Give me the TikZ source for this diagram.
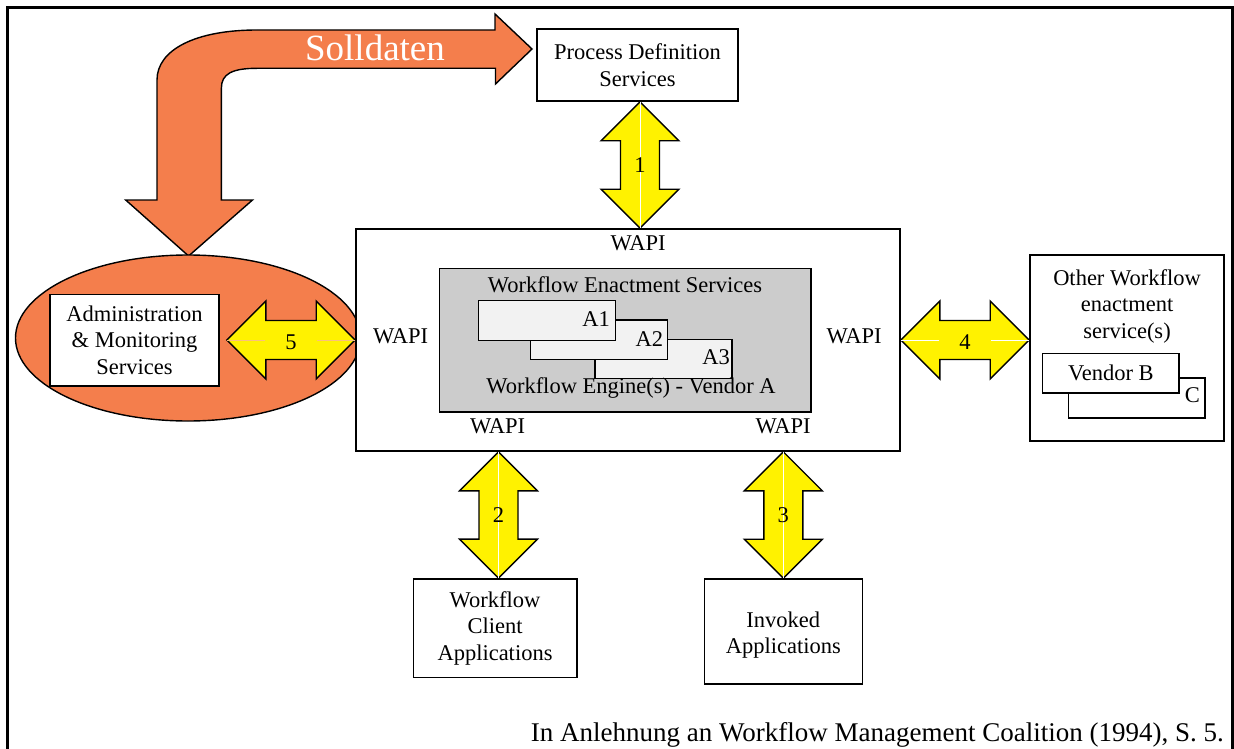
\documentclass[tikz,border=0pt]{standalone}
\usepackage{fontspec}
\setmainfont{Liberation Serif}
\usetikzlibrary{calc,shapes.geometric}
\definecolor{sollorange}{RGB}{244,126,76}
\definecolor{engray}{RGB}{204,204,204}
\definecolor{appgray}{RGB}{242,242,242}
\definecolor{midline}{RGB}{250,192,125}
\newcommand\lblfont{\fontsize{22.5}{26.5}\selectfont}
\newcommand\VDArrow[2]{%
  \filldraw[yarrow] (#1) -- ($(#1)+(39,39)$) -- ($(#1)+(19.5,39)$) -- ($(#2)+(19.5,-39)$) -- ($(#2)+(39,-39)$) -- (#2) -- ($(#2)+(-39,-39)$) -- ($(#2)+(-19.5,-39)$) -- ($(#1)+(-19.5,39)$) -- ($(#1)+(-39,39)$) -- cycle;
  \draw[white, line width=0.8pt] (#1) -- (#2);}
\newcommand\HDArrow[3]{%
  \filldraw[yarrow] (#1) -- ($(#1)+(39,-39)$) -- ($(#1)+(39,-19.5)$) -- ($(#2)+(-39,-19.5)$) -- ($(#2)+(-39,-39)$) -- (#2) -- ($(#2)+(-39,39)$) -- ($(#2)+(-39,19.5)$) -- ($(#1)+(39,19.5)$) -- ($(#1)+(39,39)$) -- cycle;
  \draw[#3, line width=0.8pt] (#1) -- ($(#1)+(38,0)$) ($(#2)+(-38,0)$) -- (#2);}
\begin{document}
\begin{tikzpicture}[x=1pt,y=-1pt,
  box/.style={draw, line width=1.6pt, fill=white, inner sep=0pt, align=center, font=\lblfont},
  yarrow/.style={fill=yellow, draw=black, line width=1.4pt, line join=miter},
  numlbl/.style={font=\lblfont, inner sep=0pt},
  txt/.style={font=\lblfont, inner sep=0pt, align=center},
  subbox/.style={draw, line width=1.4pt, fill=appgray, inner sep=0pt, minimum width=137pt, minimum height=39.5pt},
]
\useasboundingbox (0,0) rectangle (1234,749);
% outer frame (open at the bottom)
\draw[line width=3pt] (7.5,749) -- (7.5,7.5) -- (1232.5,7.5) -- (1232.5,749);

% Solldaten arrow
\filldraw[fill=sollorange, draw=black, line width=1.4pt, line join=miter]
  (188.6,256) -- (252.5,200) -- (221.4,200) -- (221.4,88)
  .. controls (221.4,74) and (232,68.3) .. (257,68.3)
  -- (495.5,68.3) -- (495.5,84) -- (532,49) -- (495,14) -- (495,30) -- (257,30)
  .. controls (195,30) and (157,50) .. (157,80)
  -- (157,200) -- (125.7,200) -- cycle;
\node[text=white, font=\fontsize{37}{40}\selectfont, inner sep=0pt] (soll) at (375,48) {Solldaten};

% administration ellipse
\node[ellipse, draw=black, line width=1.4pt, fill=sollorange, minimum width=345pt, minimum height=166pt, inner sep=0pt] (adm) at (188,338) {};
\node[box, minimum width=169pt, minimum height=91.4pt] (ams) at (134.5,340) {Administration\\\& Monitoring\\Services};

% process definition
\node[box, minimum width=201pt, minimum height=72pt] (pd) at (637.5,65) {Process Definition\\Services};

% main box
\node[draw, line width=1.6pt, fill=white, minimum width=544pt, minimum height=222pt, inner sep=0pt] (main) at (628,340) {};
\node[draw, line width=1.6pt, fill=engray, minimum width=371.4pt, minimum height=143.4pt, inner sep=0pt] (eng) at (625,340) {};
\node[txt] (wes) at (625,285) {Workflow Enactment Services};
\node[subbox] (a3) at (663.4,359) {};
\node[txt, anchor=east] (a3l) at (730,357.5) {A3};
\node[subbox] (a2) at (598.7,339.7) {};
\node[txt, anchor=east] (a2l) at (663.3,339) {A2};
\node[subbox] (a1) at (547,320.5) {};
\node[txt, anchor=east] (a1l) at (610,319) {A1};
\node[txt] (weng) at (631,388) {Workflow Engine(s) - Vendor A};

% WAPI labels
\node[txt] (wt) at (638,243) {WAPI};
\node[txt] (wl) at (400.7,336.5) {WAPI};
\node[txt] (wr) at (854,336.5) {WAPI};
\node[txt] (wbl) at (497.7,426.7) {WAPI};
\node[txt] (wbr) at (783,426.7) {WAPI};

% other workflow enactment services
\node[box, minimum width=194pt, minimum height=185.7pt] (owf) at (1127,347.9) {};
\node[txt] (owft) at (1127,306) {Other Workflow\\enactment\\service(s)};
\node[box, minimum width=136.7pt, minimum height=40pt] (vc) at (1136.7,397.7) {};
\node[txt, anchor=east] (vcl) at (1200,395) {C};
\node[box, minimum width=136.3pt, minimum height=39.4pt] (vb) at (1110.8,373) {Vendor B};

% applications
\node[box, minimum width=163.4pt, minimum height=98.7pt] (wfc) at (495,628.3) {Workflow\\Client\\Applications};
\node[box, minimum width=158pt, minimum height=105pt] (inv) at (783.3,631.5) {};
\node[txt] (invt) at (783.3,635) {Invoked\\Applications};

% interface arrows
\coordinate (t1) at (640,0 |- pd.south);
\coordinate (b1) at (640,0 |- main.north);
\VDArrow{t1}{b1}
\node[numlbl] (n1) at ($(t1)!0.5!(b1)$) {1};

\coordinate (t2) at (498.5,0 |- main.south);
\coordinate (b2) at (498.5,0 |- wfc.north);
\VDArrow{t2}{b2}
\node[numlbl] (n2) at ($(t2)!0.5!(b2)$) {2};

\coordinate (t3) at (783.3,0 |- main.south);
\coordinate (b3) at (783.3,0 |- inv.north);
\VDArrow{t3}{b3}
\node[numlbl] (n3) at ($(t3)!0.5!(b3)$) {3};

\coordinate (l5) at ($(ams.east)+(7,0)$);
\coordinate (r5) at (main.west);
\HDArrow{l5}{r5}{midline}
\node[numlbl] (n5) at ($(l5)!0.5!(r5)+(0,2)$) {5};

\coordinate (l4) at (main.east);
\coordinate (r4) at (owf.west |- main.east);
\HDArrow{l4}{r4}{white}
\node[numlbl] (n4) at ($(l4)!0.5!(r4)+(0,2)$) {4};

% caption
\node[anchor=base east, font=\fontsize{27}{30}\selectfont, inner sep=0pt] (cap) at (1224,741.5) {In Anlehnung an Workflow Management Coalition (1994), S.~5.};
\end{tikzpicture}
\end{document}
